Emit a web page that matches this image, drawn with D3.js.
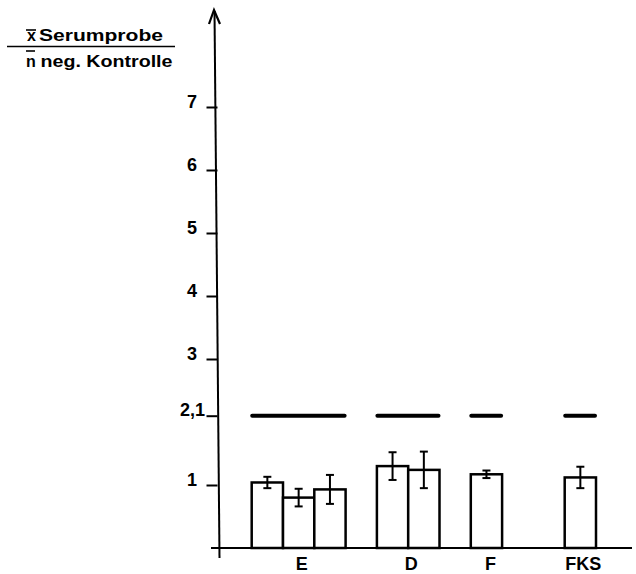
<!DOCTYPE html>
<html>
<head>
<meta charset="utf-8">
<script src="https://cdn.jsdelivr.net/npm/d3@7"></script>
<style>
  html, body { margin: 0; padding: 0; background: #fff; }
  svg { display: block; }
  text { font-family: "Liberation Sans", Arial, sans-serif; font-weight: bold; fill: #000; }
</style>
</head>
<body>
<svg id="chart" width="636" height="574"></svg>
<script>
// ---- data ----
const categories = ["E", "D", "F", "FKS"];
const valuesE   = [1.04, 0.80, 0.93];
const valuesD   = [1.30, 1.24];
const valuesF   = [1.17];
const valuesFKS = [1.12];
const errorsE   = [0.09, 0.14, 0.23];
const errorsD   = [0.22, 0.29];
const errorsF   = [0.06];
const errorsFKS = [0.17];
const threshold = 2.1;
const yTickValues = [1, 2.1, 3, 4, 5, 6, 7];
const yTickLabels = ["1", "2,1", "3", "4", "5", "6", "7"];
const titleTop = "Serumprobe";
const titleBottom = "neg. Kontrolle";

// ---- layout ----
const groupValues = [valuesE, valuesD, valuesF, valuesFKS];
const groupErrors = [errorsE, errorsD, errorsF, errorsFKS];
const groupStartSlot = [0, 4, 7, 10];   // layout: slot where each group starts

const svg = d3.select("#chart");
const axisX = 217.5;
const y = d3.scaleLinear().domain([0, 7]).range([548, 107]);
const x = d3.scaleLinear().domain([0, 10]).range([251.7, 564.7]);
const bw = x(1) - x(0);

// build bars
const bars = [];
groupValues.forEach((vals, g) => {
  vals.forEach((v, i) => {
    bars.push({ group: g, slot: groupStartSlot[g] + i, value: v, err: groupErrors[g][i] });
  });
});

// threshold segments per group
svg.append("g").selectAll("line")
  .data(categories.map((c, g) => ({ g, start: groupStartSlot[g], n: groupValues[g].length })))
  .join("line")
  .attr("x1", d => x(d.start) + 0.5)
  .attr("x2", d => x(d.start + d.n) - 1)
  .attr("y1", y(threshold)).attr("y2", y(threshold))
  .attr("stroke", "#000").attr("stroke-width", 4).attr("stroke-linecap", "round");

// bars
svg.append("g").selectAll("rect")
  .data(bars)
  .join("rect")
  .attr("x", d => x(d.slot))
  .attr("y", d => y(d.value))
  .attr("width", bw)
  .attr("height", d => y(0) - y(d.value))
  .attr("fill", "#fff").attr("stroke", "#000").attr("stroke-width", 2.5);

// error bars
const eb = svg.append("g").attr("stroke", "#000").attr("stroke-width", 2);
eb.selectAll("line.v").data(bars).join("line").attr("class", "v")
  .attr("x1", d => x(d.slot + 0.5)).attr("x2", d => x(d.slot + 0.5))
  .attr("y1", d => y(d.value + d.err)).attr("y2", d => y(d.value - d.err));
eb.selectAll("line.t").data(bars).join("line").attr("class", "t")
  .attr("x1", d => x(d.slot + 0.5) - 4).attr("x2", d => x(d.slot + 0.5) + 4)
  .attr("y1", d => y(d.value + d.err)).attr("y2", d => y(d.value + d.err));
eb.selectAll("line.b").data(bars).join("line").attr("class", "b")
  .attr("x1", d => x(d.slot + 0.5) - 4).attr("x2", d => x(d.slot + 0.5) + 4)
  .attr("y1", d => y(d.value - d.err)).attr("y2", d => y(d.value - d.err));

// x axis line
svg.append("line")
  .attr("x1", 211).attr("x2", 632).attr("y1", y(0)).attr("y2", y(0))
  .attr("stroke", "#000").attr("stroke-width", 2);

// x labels
svg.append("g").selectAll("text")
  .data(categories)
  .join("text")
  .attr("x", (c, g) => x(groupStartSlot[g] + groupValues[g].length / 2) + (c === "F" ? 4 : 3))
  .attr("y", 570)
  .attr("text-anchor", "middle")
  .attr("font-size", 18)
  .text(c => c);

// y axis
const yAxis = d3.axisLeft(y)
  .tickValues(yTickValues)
  .tickFormat((d, i) => yTickLabels[i])
  .tickSize(11)
  .tickPadding(9.5);
const ga = svg.append("g").attr("transform", `translate(${axisX},0)`).call(yAxis);
ga.select(".domain").remove();
ga.selectAll(".tick line").attr("stroke", "#000").attr("stroke-width", 2);
ga.selectAll(".tick text")
  .attr("dy", "0")
  .attr("dx", (d) => d === 2.1 ? 8 : 0)
  .attr("font-family", "Liberation Sans, Arial, sans-serif")
  .attr("font-weight", "bold")
  .attr("font-size", 18)
  .attr("fill", "#000");

// y axis line with arrow
svg.append("line")
  .attr("x1", 214.5).attr("y1", 11).attr("x2", 219.5).attr("y2", 558)
  .attr("stroke", "#000").attr("stroke-width", 2);
svg.append("path")
  .attr("d", "M209,24 L214,10 L220,24")
  .attr("fill", "none").attr("stroke", "#000").attr("stroke-width", 2.2)
  .attr("stroke-linejoin", "miter");

// y title (fraction)
const tg = svg.append("g");
tg.append("text").attr("x", 27).attr("y", 41).attr("font-size", 16).text("x");
tg.append("line").attr("x1", 26).attr("x2", 36).attr("y1", 30).attr("y2", 30)
  .attr("stroke", "#000").attr("stroke-width", 1.6);
tg.append("text").attr("x", 39).attr("y", 41).attr("font-size", 16)
  .attr("textLength", 124).attr("lengthAdjust", "spacingAndGlyphs").text(titleTop);
tg.append("line").attr("x1", 7).attr("x2", 175).attr("y1", 46.5).attr("y2", 46.5)
  .attr("stroke", "#000").attr("stroke-width", 1.6);
tg.append("text").attr("x", 26).attr("y", 66.5).attr("font-size", 16).text("n");
tg.append("line").attr("x1", 26).attr("x2", 35).attr("y1", 51).attr("y2", 51)
  .attr("stroke", "#000").attr("stroke-width", 1.6);
tg.append("text").attr("x", 40.5).attr("y", 66.5).attr("font-size", 16)
  .attr("textLength", 132).attr("lengthAdjust", "spacingAndGlyphs").text(titleBottom);
</script>
</body>
</html>
